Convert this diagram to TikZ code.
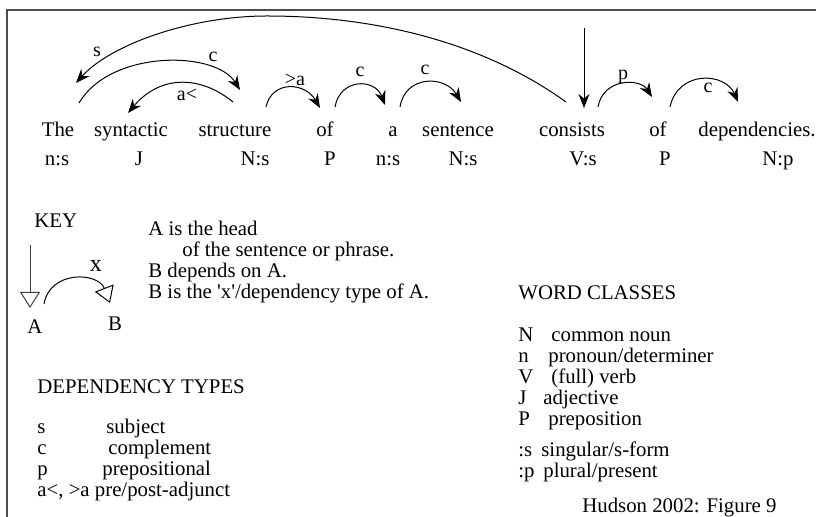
\documentclass[tikz,border=0pt]{standalone}
\usepackage{fontspec}
\setmainfont{Liberation Serif}
\usepackage{tikz}
\usetikzlibrary{arrows.meta, positioning}

\begin{document}
\begin{tikzpicture}[
    x=0.5pt, y=-0.5pt,
    word/.style={anchor=base, inner sep=0pt, font=\fontsize{10.4}{12}\selectfont},
    txt/.style={anchor=base west, inner sep=0pt, font=\fontsize{10.4}{12}\selectfont},
    lab/.style={inner sep=0pt, font=\fontsize{10}{12}\selectfont},
    dep/.style={-{Stealth[length=7pt, width=5.5pt]}, line width=0.5pt},
    keyarr/.style={-{Triangle[open, length=8pt, width=10pt]}, line width=0.5pt}
  ]

    \useasboundingbox (0,0) rectangle (816,517);

    % Frame
    \draw[line width=1pt, black!70] (816,10) -- (7,10) -- (7,517);

    % Words
    \node[word] (the) at (58,137) {The};
    \node[word] (syn) at (131,137) {syntactic};
    \node[word] (struc) at (235,137) {structure};
    \node[word] (of) at (325,137) {of};
    \node[word] (a) at (393,137) {a};
    \node[word] (sent) at (458,137) {sentence};
    \node[word] (cons) at (572,137) {consists};
    \node[word] (ofb) at (658,137) {of};
    \node[word] (deps) at (757,137) {dependencies.};

    % Word classes
    \node[word] (tthe) at (57,166) {n:s};
    \node[word] (tsyn) at (139,166) {J};
    \node[word] (tstruc) at (255,166) {N:s};
    \node[word] (tof) at (330,166) {P};
    \node[word] (ta) at (388,166) {n:s};
    \node[word] (tsent) at (463,166) {N:s};
    \node[word] (tcons) at (583,166) {V:s};
    \node[word] (tofb) at (665,166) {P};
    \node[word] (tdeps) at (778,166) {N:p};

    % Root
    \coordinate (root) at (584,28);
    \draw[dep] (root) -- ([shift={(12,-29)}]cons.base);

    % Dependencies
    \draw[dep] ([shift={(-6,-35)}]cons.base) .. controls (480,40) and (370,16) .. (267,16)
      .. controls (190,16) and (110,45) .. ([shift={(18,-54)}]the.base)
      node[lab] at (97,52) {s};
    \draw[dep] ([shift={(21,-34)}]the.base) .. controls (110,50) and (215,50) ..
      ([shift={(5,-47)}]struc.base) node[lab] at (213,57) {c};
    \draw[dep] ([shift={(-2,-35)}]struc.base) .. controls (200,75) and (160,75) ..
      ([shift={(-3,-24)}]syn.base) node[lab] at (187,95) {a<};
    \draw[dep] ([shift={(31,-30)}]struc.base) .. controls (272,80) and (305,82) ..
      ([shift={(-5,-29)}]of.base) node[lab] at (295,80) {>a};
    \draw[dep] ([shift={(10,-30)}]of.base) .. controls (340,78) and (375,78) ..
      ([shift={(-8,-32)}]a.base) node[lab] at (360,72) {c};
    \draw[dep] ([shift={(7,-30)}]a.base) .. controls (405,75) and (445,75) ..
      ([shift={(3,-35)}]sent.base) node[lab] at (425,70) {c};
    \draw[dep] ([shift={(26,-30)}]cons.base) .. controls (603,78) and (640,78) ..
      ([shift={(-6,-40)}]ofb.base) node[lab] at (623,77) {p};
    \draw[dep] ([shift={(12,-30)}]ofb.base) .. controls (678,70) and (725,72) ..
      ([shift={(-19,-35)}]deps.base) node[lab] at (708,88) {c};

    % Key
    \node[txt] (key) at (34,228) {KEY};
    \node[word] (ka) at (35,334) {A};
    \node[word] (kb) at (115,331) {B};
    \coordinate (ktop) at (30,245);
    \draw[keyarr, black!75] (ktop) -- ([shift={(-5,-26)}]ka.base);
    \draw[keyarr] ([shift={(9,-30)}]ka.base) .. controls (50,270) and (98,272) ..
      ([shift={(-5,-28)}]kb.base) node[inner sep=0pt, font=\fontsize{12}{14}\selectfont] at (96,266) {x};
    \node[txt] (head) at (148,236) {A is the head};
    \node[txt] (phrase) at (182,257) {of the sentence or phrase.};
    \node[txt] (depon) at (148,278) {B depends on A.};
    \node[txt] (xtype) at (148,299) {B is the \textquotesingle x\textquotesingle/dependency type of A.};

    % Dependency types
    \node[txt] (dtypes) at (37,394) {DEPENDENCY TYPES};
    \node[txt] (ds) at (37,434) {s};
    \node[txt] (dsx) at (106,434) {subject};
    \node[txt] (dc) at (37,455) {c};
    \node[txt] (dcx) at (108,455) {complement};
    \node[txt] (dp) at (37,476) {p};
    \node[txt] (dpx) at (102,476) {prepositional};
    \node[txt] (da) at (37,497) {a<, >a pre/post-adjunct};

    % Word classes key
    \node[txt] (wclass) at (518,300) {WORD CLASSES};
    \node[txt] (wn) at (518,342) {N};
    \node[txt] (wnx) at (551,342) {common noun};
    \node[txt] (wpro) at (518,363) {n};
    \node[txt] (wprox) at (548,363) {pronoun/determiner};
    \node[txt] (wv) at (518,384) {V};
    \node[txt] (wvx) at (551,384) {(full) verb};
    \node[txt] (wj) at (518,405) {J};
    \node[txt] (wjx) at (543,405) {adjective};
    \node[txt] (wp) at (518,426) {P};
    \node[txt] (wpx) at (548,426) {preposition};
    \node[txt] (ws) at (518,457) {:s};
    \node[txt] (wsx) at (541,457) {singular/s-form};
    \node[txt] (wpl) at (518,478) {:p};
    \node[txt] (wplx) at (543,478) {plural/present};
    \node[txt] (src) at (582,513) {Hudson 2002: Figure 9};

  \end{tikzpicture}
\end{document}
